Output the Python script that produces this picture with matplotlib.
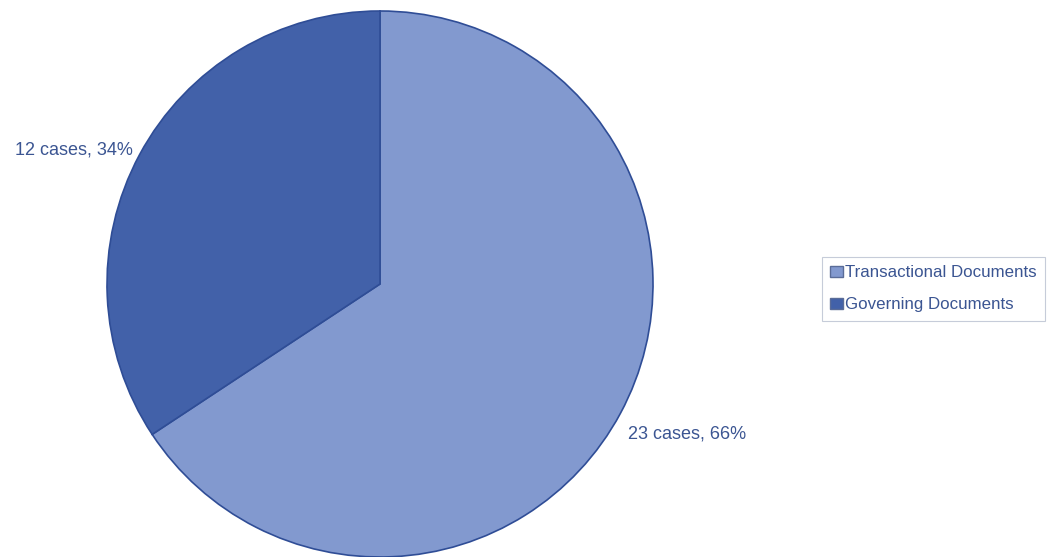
import matplotlib.pyplot as plt
import matplotlib.transforms as mtransforms
from matplotlib.patches import Patch

categories = ['Transactional Documents', 'Governing Documents']
cases = [23, 12]
colors = ['#8299cf', '#4261a9']
edge_color = '#2f4d96'
text_color = '#3b5592'

total = sum(cases)
labels = ['%d cases, %d%%' % (n, round(100.0 * n / total)) for n in cases]

plt.rcParams['font.family'] = ['Liberation Sans', 'DejaVu Sans']

fig = plt.figure(figsize=(10.48, 5.57), dpi=100)
ax = fig.add_axes([0, 0, 1, 1])

cx, cy = 380, 273
wedges, texts = ax.pie(cases, labels=labels, colors=colors, startangle=90,
                       counterclock=False, center=(cx, cy), radius=273,
                       labeldistance=1.03, frame=True,
                       wedgeprops={'edgecolor': edge_color, 'linewidth': 1.2},
                       textprops={'fontsize': 13, 'color': text_color})
# anchor each label by the corner nearest the pie, nudged down a little
shift = mtransforms.offset_copy(ax.transData, fig=fig, x=0, y=-8, units='dots')
for t in texts:
    x, y = t.get_position()
    t.set_ha('right' if x < cx else 'left')
    t.set_va('bottom' if y > cy else 'top')
    t.set_transform(shift)

ax.set_xlim(0, 1048)
ax.set_ylim(0, 557)
ax.set_aspect('equal')
ax.axis('off')

handles = [Patch(facecolor=c, edgecolor='#5a6c98', label=l) for c, l in zip(colors, categories)]
leg = ax.legend(handles=handles, loc='upper left', bbox_to_anchor=(822 / 1048, 1 - 257 / 557),
                frameon=True, fancybox=False, fontsize=12.2, handlelength=0.72, handleheight=0.7,
                handletextpad=0.15, borderpad=0.5, labelspacing=1.0, borderaxespad=0)
leg.get_frame().set_edgecolor('#b8c0d0')
leg.get_frame().set_linewidth(0.8)
for t in leg.get_texts():
    t.set_color(text_color)

fig.savefig('out.png', dpi=100)
